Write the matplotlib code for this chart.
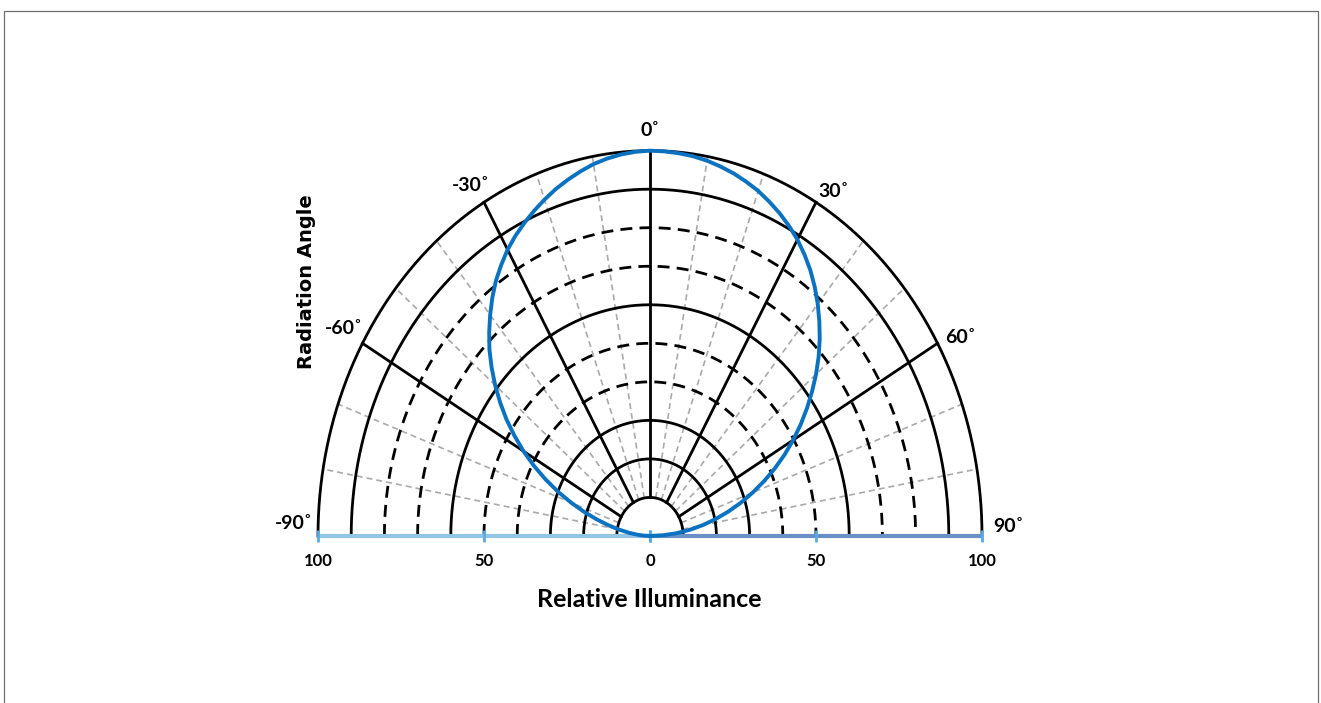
import numpy as np
import matplotlib
matplotlib.use("Agg")
from matplotlib import pyplot as plt
from matplotlib.patches import Rectangle

plt.rcParams['font.family'] = ['Lato', 'DejaVu Sans']
plt.rcParams['font.weight'] = 'bold'

# radiation pattern, every 2.5 degrees
angle_deg = [-90, -87.5, -85, -82.5, -80, -77.5, -75, -72.5, -70, -67.5, -65,
             -62.5, -60, -57.5, -55, -52.5, -50, -47.5, -45, -42.5, -40, -37.5,
             -35, -32.5, -30, -27.5, -25, -22.5, -20, -17.5, -15, -12.5, -10,
             -7.5, -5, -2.5, 0, 2.5, 5, 7.5, 10, 12.5, 15, 17.5, 20, 22.5, 25,
             27.5, 30, 32.5, 35, 37.5, 40, 42.5, 45, 47.5, 50, 52.5, 55, 57.5,
             60, 62.5, 65, 67.5, 70, 72.5, 75, 77.5, 80, 82.5, 85, 87.5, 90]
illuminance = [0, 1.9, 4.0, 6.5, 9.4, 12.8, 16.6, 20.8, 25.3, 30.0, 34.7,
               39.4, 44.0, 48.4, 52.8, 56.9, 60.9, 64.7, 68.4, 71.7, 74.9, 78.0,
               80.9, 83.4, 85.8, 87.8, 89.6, 91.3, 92.9, 94.4, 95.7, 96.9, 98.0,
               98.8, 99.4, 99.8, 100, 99.9, 99.7, 99.4, 98.9, 98.2, 97.4, 96.4,
               95.3, 93.9, 92.4, 90.7, 88.8, 86.6, 84.2, 81.5, 78.6, 75.5, 72.3,
               68.9, 65.3, 61.5, 57.7, 53.8, 49.8, 45.7, 41.5, 37.2, 32.9, 28.7,
               24.4, 20.2, 16.1, 12.0, 7.9, 3.9, 0]

# grid
ring_solid = [10, 20, 30, 60, 90, 100]
ring_dashed = [40, 50, 70, 80]
major_angles = [-60, -30, 0, 30, 60]
minor_angles = [-80, -70, -50, -40, -20, -10, 10, 20, 40, 50, 70, 80]
r_inner, r_outer = 10, 100

angle_labels = ['-90˚', '-60˚', '-30˚', '0˚', '30˚', '60˚', '90˚']
label_angles = [-90, -60, -30, 0, 30, 60, 90]
# (offset x, offset y) in points, horizontal alignment
label_place = [(-3.6, 5, 'right'), (0, 6.8, 'right'), (4.3, 8.4, 'right'),
               (0, 10.6, 'center'), (1.4, 4, 'left'), (5.4, 0.5, 'left'),
               (7.9, 3.1, 'left')]
tick_r = [0, 50, 100]

W, H = 1321, 703
fig = plt.figure(figsize=(W / 100, H / 100), dpi=100)
fig.add_artist(Rectangle((4 / W, -0.1), (1318 - 4) / W, 1.1 - 11 / H,
                         transform=fig.transFigure, fill=False,
                         edgecolor='#6e6e6e', lw=0.9))

# polar wedge sits in the middle half of the axes height
ax = fig.add_axes([318 / W, (H - 728.6) / H, 664 / W, 770.6 / H],
                  projection='polar')
ax.set_theta_zero_location('N')
ax.set_theta_direction(-1)
ax.set_thetamin(-90)
ax.set_thetamax(90)
ax.set_rlim(0, 100)
ax.set_aspect('auto')
ax.grid(False)
ax.set_xticks([])
ax.set_yticks([])
for s in ax.spines.values():
    s.set_visible(False)
ax.patch.set_visible(False)

theta = np.radians(np.linspace(-90, 90, 361))

# minor spokes
for a in minor_angles:
    ax.plot(np.radians([a, a]), [r_inner, r_outer], color='#a9a9a9', lw=1.2,
            ls=(0, (3.6, 2.4)), clip_on=False, zorder=1)

# rings
for r in ring_solid:
    ax.plot(theta, np.full_like(theta, r), color='black', lw=2.0,
            clip_on=False, zorder=2)
for r in ring_dashed:
    ax.plot(theta, np.full_like(theta, r), color='black', lw=2.0,
            ls=(0, (4.3, 2.6)), clip_on=False, zorder=2)

# major spokes
for a in major_angles:
    ax.plot(np.radians([a, a]), [r_inner, r_outer], color='black', lw=2.0,
            clip_on=False, zorder=2)

# base axis bar
ax.plot(np.radians([-90, -90]), [100, 0], color='#93c6e4', lw=3,
        solid_capstyle='butt', clip_on=False, zorder=3)
ax.plot(np.radians([90, 90]), [0, 100], color='#6a8fc7', lw=3,
        solid_capstyle='butt', clip_on=False, zorder=3)
for side in (-90, 90):
    ax.plot(np.radians([side] * len(tick_r)), tick_r, ls='none', marker='|',
            ms=8, mew=2, color='#56ace6', clip_on=False, zorder=4)
    for r in tick_r:
        if side == 90 and r == 0:
            continue
        ax.annotate(str(r), xy=(np.radians(side), r), xytext=(0, -21.6),
                    textcoords='offset points', ha='center', va='baseline',
                    fontsize=12, fontweight='bold', annotation_clip=False)

# radiation curve
ax.plot(np.radians(angle_deg), illuminance, color='#0b72c1', lw=2.8,
        clip_on=False, zorder=5)

# angle labels
for a, txt, (dx, dy, ha) in zip(label_angles, angle_labels, label_place):
    ax.annotate(txt, xy=(np.radians(a), 100), xytext=(dx, dy),
                textcoords='offset points', ha=ha, va='baseline',
                fontsize=14, fontweight='bold', annotation_clip=False)

fig.text(649.5 / W, 1 - 607 / H, 'Relative Illuminance', ha='center',
         va='baseline', fontsize=18, fontweight='bold')
fig.text(306 / W, 1 - 282 / H, 'Radiation Angle', ha='center', va='center',
         rotation=90, fontsize=14, fontweight='bold', family='DejaVu Sans')

fig.savefig('out.png', dpi=100)
